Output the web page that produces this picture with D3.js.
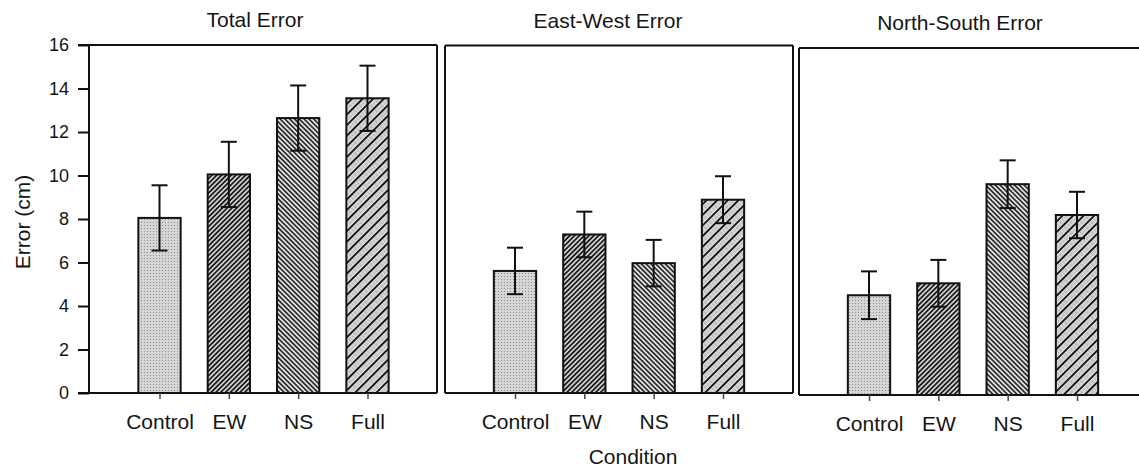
<!DOCTYPE html>
<html><head><meta charset="utf-8">
<script src="https://cdn.jsdelivr.net/npm/d3@7"></script>
<style>body{margin:0;background:#fff}svg{display:block}text{font-family:"Liberation Sans",Arial,sans-serif;fill:#151515}</style>
</head><body>
<svg id="c" width="1139" height="471"></svg>
<script>
const categories = ["Control", "EW", "NS", "Full"];
const panelTitles = ["Total Error", "East-West Error", "North-South Error"];
const totalMeans = [8.05, 10.05, 12.64, 13.55];
const totalErr = [1.5, 1.5, 1.5, 1.5];
const ewMeans = [5.62, 7.3, 5.98, 8.9];
const ewErr = [1.07, 1.05, 1.07, 1.08];
const nsMeans = [4.6, 5.15, 9.72, 8.3];
const nsErr = [1.1, 1.08, 1.1, 1.07];
const yTicks = [0, 2, 4, 6, 8, 10, 12, 14, 16];
const xTitle = "Condition";
const yTitle = "Error (cm)";

const svg = d3.select("#c");
const defs = svg.append("defs");
function stipple(id, bg, dot) {
  const p = defs.append("pattern").attr("id", id).attr("patternUnits", "userSpaceOnUse").attr("width", 3).attr("height", 3);
  p.append("rect").attr("width", 3).attr("height", 3).attr("fill", bg);
  p.append("rect").attr("width", 1).attr("height", 1).attr("fill", dot);
  p.append("rect").attr("x", 1.5).attr("y", 1.5).attr("width", 1).attr("height", 1).attr("fill", "#e8e8e8");
}
stipple("pControl", "#d2d2d2", "#939393");
function hatch(id, size, rot, lw, bg, col, stip) {
  const p = defs.append("pattern").attr("id", id).attr("patternUnits", "userSpaceOnUse")
    .attr("width", size).attr("height", size).attr("patternTransform", `rotate(${rot})`);
  p.append("rect").attr("width", size).attr("height", size).attr("fill", stip ? "url(#pStip)" : bg);
  p.append("line").attr("x1", size / 2).attr("x2", size / 2).attr("y1", 0).attr("y2", size)
    .attr("stroke", col).attr("stroke-width", lw);
}
stipple("pStip", "#d8d8d8", "#a0a0a0");
hatch("pEW", 3.4, 45, 1.8, "#dadada", "#1a1a1a", false);
hatch("pNS", 3.4, -45, 1.6, "#e2e2e2", "#222", false);
hatch("pFull", 7.5, 45, 1.9, null, "#161616", true);
const fills = ["url(#pControl)", "url(#pEW)", "url(#pNS)", "url(#pFull)"];

const panels = [
  {means: totalMeans, err: totalErr, x0: 89, x1: 437, top: 45, bottom: 393, c0: 159.5, c1: 367.5, axis: true, right: true, tx: 255, ty: 27},
  {means: ewMeans, err: ewErr, x0: 445, x1: 793, top: 45.5, bottom: 393, c0: 515, c1: 723, axis: false, right: true, tx: 608, ty: 28},
  {means: nsMeans, err: nsErr, x0: 799, x1: 1145, top: 48, bottom: 395, c0: 869, c1: 1077, axis: false, right: false, tx: 960, ty: 30}
];

panels.forEach((P, i) => {
  const g = svg.append("g");
  const y = d3.scaleLinear().domain([0, 16]).range([P.bottom, P.top]);
  const x = d3.scalePoint().domain(categories).range([P.c0, P.c1]);
  const bw = x.step() * 0.61;
  const data = categories.map((c, k) => ({c, v: P.means[k], e: P.err[k], k}));

  g.selectAll("rect.bar").data(data).join("rect").attr("class", "bar")
    .attr("x", d => x(d.c) - bw / 2).attr("width", bw)
    .attr("y", d => y(d.v)).attr("height", d => y(0) - y(d.v))
    .attr("fill", d => fills[d.k]).attr("stroke", "#111").attr("stroke-width", 2);

  const eb = g.selectAll("g.eb").data(data).join("g").attr("class", "eb")
    .attr("stroke", "#111").attr("stroke-width", 2);
  eb.append("line").attr("x1", d => x(d.c)).attr("x2", d => x(d.c))
    .attr("y1", d => y(d.v + d.e)).attr("y2", d => y(d.v - d.e));
  eb.append("line").attr("x1", d => x(d.c) - 8).attr("x2", d => x(d.c) + 8)
    .attr("y1", d => y(d.v + d.e)).attr("y2", d => y(d.v + d.e));
  eb.append("line").attr("x1", d => x(d.c) - 8).attr("x2", d => x(d.c) + 8)
    .attr("y1", d => y(d.v - d.e)).attr("y2", d => y(d.v - d.e));

  const fr = g.append("g").attr("stroke", "#111").attr("stroke-width", 2).attr("fill", "none");
  const left = P.axis ? P.x0 - 11 : P.x0;
  fr.append("line").attr("x1", left).attr("x2", P.x1).attr("y1", P.top).attr("y2", P.top);
  fr.append("line").attr("x1", left).attr("x2", P.x1).attr("y1", P.bottom).attr("y2", P.bottom);
  fr.append("line").attr("x1", P.x0).attr("x2", P.x0).attr("y1", P.top).attr("y2", P.bottom);
  if (P.right) fr.append("line").attr("x1", P.x1).attr("x2", P.x1).attr("y1", P.top).attr("y2", P.bottom);

  const xa = g.append("g").attr("transform", `translate(0,${P.bottom})`)
    .call(d3.axisBottom(x).tickSize(6).tickPadding(15));
  xa.select(".domain").remove();
  xa.selectAll("line").attr("stroke", "#444").attr("stroke-width", 1.5);
  xa.selectAll("text").attr("font-size", 21).attr("fill", "#151515")
    .attr("font-family", "'Liberation Sans', Arial, sans-serif");

  if (P.axis) {
    const ya = g.append("g").attr("transform", `translate(${P.x0},0)`)
      .call(d3.axisLeft(y).tickValues(yTicks).tickFormat(d3.format("d")).tickSize(11).tickPadding(9));
    ya.select(".domain").remove();
    ya.selectAll("line").attr("stroke", "#111").attr("stroke-width", 2);
    ya.selectAll("text").attr("font-size", 18).attr("fill", "#151515")
      .attr("font-family", "'Liberation Sans', Arial, sans-serif");
  }

  g.append("text").attr("x", P.tx).attr("y", P.ty).attr("text-anchor", "middle")
    .attr("font-size", 21).text(panelTitles[i]);
});

svg.append("text").attr("x", 633).attr("y", 464).attr("text-anchor", "middle").attr("font-size", 21).text(xTitle);
svg.append("text").attr("transform", "translate(30,222) rotate(-90)").attr("text-anchor", "middle").attr("font-size", 21).text(yTitle);
</script>
</body></html>
